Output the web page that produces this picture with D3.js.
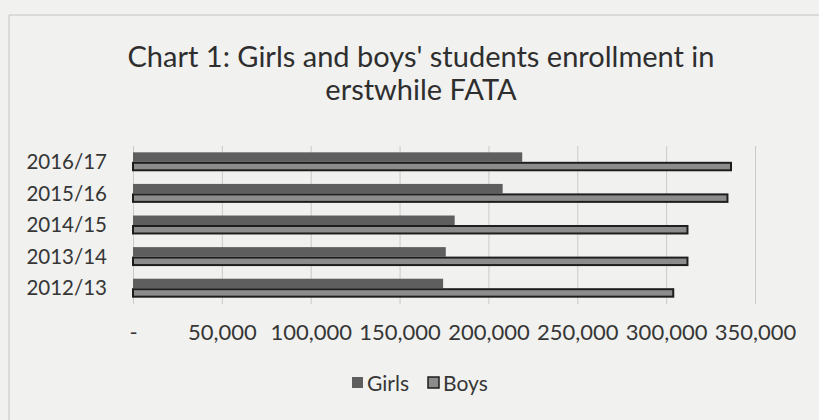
<!DOCTYPE html>
<html>
<head>
<meta charset="utf-8">
<script src="https://cdn.jsdelivr.net/npm/d3@7"></script>
<style>
  body { margin: 0; background: #f1f1ef; }
  .chart text { font-family: Lato, "Open Sans", sans-serif; fill: #363636; }
</style>
</head>
<body>
<svg class="chart"></svg>
<script>
// values
var categories = ["2012/13", "2013/14", "2014/15", "2015/16", "2016/17"];
var girls = [174500, 176000, 181000, 208000, 219000];
var boys = [304000, 312000, 312000, 334500, 336500];
var xTicks = [0, 50000, 100000, 150000, 200000, 250000, 300000, 350000];
var seriesNames = ["Girls", "Boys"];

var W = 819, H = 420;
var margin = {top: 146, right: 64, bottom: 116, left: 133},
	width = W - margin.left - margin.right,
	height = H - margin.top - margin.bottom;

var chart = d3.select('.chart')
	.attr('width', W)
	.attr('height', H);

// faint frame of the embedded chart
chart.append('line').attr('x1', 9).attr('x2', 9).attr('y1', 15).attr('y2', H)
	.attr('stroke', '#c4c4c4');
chart.append('line').attr('x1', 9).attr('x2', W).attr('y1', 15).attr('y2', 15)
	.attr('stroke', '#c4c4c4');

var x = d3.scaleLinear().domain([0, 350000]).range([0, width]);
var y = d3.scaleBand().domain(categories.slice().reverse()).range([0, height]).paddingInner(0.4).paddingOuter(0.2);
var sub = d3.scaleBand().domain(seriesNames).range([0, y.bandwidth()]);

var g = chart.append('g')
	.attr('transform', 'translate(' + margin.left + ',' + margin.top + ')');

// gridlines
g.append('g')
	.attr('class', 'grid')
	.call(d3.axisBottom(x).tickValues(xTicks).tickSize(height).tickFormat(''))
	.call(function(s) {
		s.select('.domain').remove();
		s.selectAll('.tick line').attr('stroke', '#cacaca');
	});

// x axis labels
g.append('g')
	.attr('transform', 'translate(0,' + height + ')')
	.call(d3.axisBottom(x).tickValues(xTicks).tickSize(0).tickPadding(36)
		.tickFormat(function(d) { return d === 0 ? '-' : d3.format(',')(d); }))
	.call(function(s) {
		s.select('.domain').remove();
		s.selectAll('text').attr('font-size', 22).attr('dy', 0).attr('fill', '#363636');
	});

// y axis labels
g.append('g')
	.call(d3.axisLeft(y).tickSize(0).tickPadding(26))
	.call(function(s) {
		s.select('.domain').remove();
		s.selectAll('text').attr('font-size', 20.5).attr('dy', '0.35em').attr('fill', '#363636');
	});

var rows = categories.map(function(c, i) {
	return {cat: c, Girls: girls[i], Boys: boys[i]};
});

var row = g.selectAll('.row')
	.data(rows)
  .enter().append('g')
	.attr('class', 'row')
	.attr('transform', function(d) { return 'translate(0,' + y(d.cat) + ')'; });

row.append('rect')
	.attr('x', x(0))
	.attr('y', sub('Girls'))
	.attr('height', sub.bandwidth())
	.attr('width', function(d) { return x(d.Girls) - x(0); })
	.attr('fill', '#5e5e5e');

row.append('rect')
	.attr('x', x(0))
	.attr('y', sub('Boys') + 1)
	.attr('height', sub.bandwidth() - 2)
	.attr('width', function(d) { return x(d.Boys) - x(0); })
	.attr('fill', '#8c8c8c')
	.attr('stroke', '#1e1e1e')
	.attr('stroke-width', 2);

// title
var title = chart.append('text')
	.attr('text-anchor', 'middle')
	.attr('font-size', 29)
	.style('fill', '#2e2e2e');
title.append('tspan').attr('x', 421).attr('y', 67).text("Chart 1: Girls and boys' students enrollment in");
title.append('tspan').attr('x', 421).attr('y', 100).text('erstwhile FATA');

// legend
var legend = chart.append('g').attr('transform', 'translate(352,0)');
var lx = [0, 76];
seriesNames.forEach(function(n, i) {
	legend.append('rect')
		.attr('x', lx[i]).attr('y', 377)
		.attr('width', 11).attr('height', 11)
		.attr('fill', i === 0 ? '#5e5e5e' : '#8c8c8c')
		.attr('stroke', i === 0 ? 'none' : '#1e1e1e')
		.attr('stroke-width', 1.5);
	legend.append('text')
		.attr('x', lx[i] + 15).attr('y', 391)
		.attr('font-size', 21)
		.text(n);
});
</script>
</body>
</html>
